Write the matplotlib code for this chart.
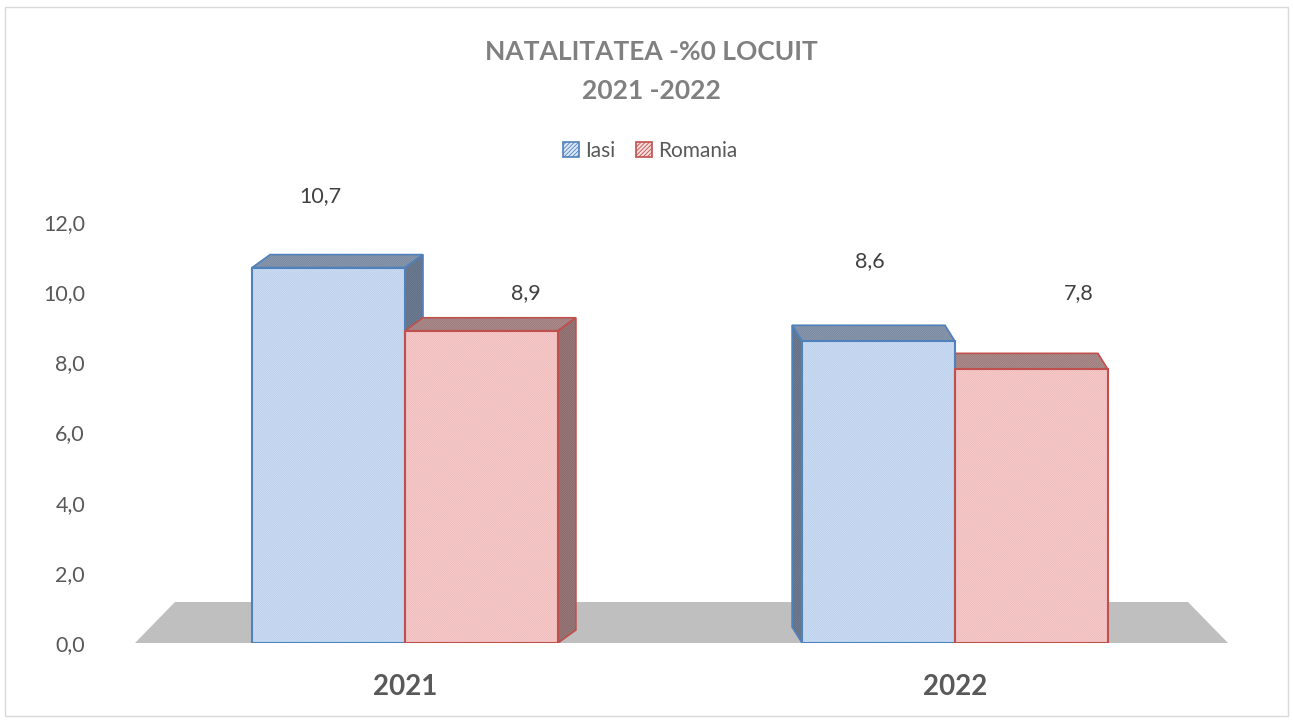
#!/usr/bin/env python3
"""Natalitatea %0 locuitori, Iasi vs Romania, 2021-2022 (pseudo-3D clustered columns)."""

import matplotlib
matplotlib.use("Agg")
import matplotlib.pyplot as plt
from matplotlib.patches import Polygon, Rectangle, Patch

# --- data ---
years = ["2021", "2022"]
series_names = ["Iasi", "Romania"]
iasi = [10.7, 8.6]
romania = [8.9, 7.8]
y_ticks = [0.0, 2.0, 4.0, 6.0, 8.0, 10.0, 12.0]

# --- styles ---
plt.rcParams["font.family"] = ["Lato", "DejaVu Sans"]
plt.rcParams["hatch.linewidth"] = 0.6
front = [dict(face="#dde8f7", hatch="#b6cdeb", edge="#4f81bd"),
         dict(face="#f9dddd", hatch="#f0b5b5", edge="#c0504d")]
top = [dict(face="#9ba8ba", hatch="#74849b", edge="#4f81bd"),
       dict(face="#bd9f9f", hatch="#967575", edge="#c0504d")]
side = [dict(face="#7e8ca0", hatch="#5b6a80", edge="#4f81bd"),
        dict(face="#a88a8a", hatch="#856464", edge="#c0504d")]
depth_px = [(18, 13), (-10, 16)]          # perspective offset per year group
label_off_px = [[(-8, 62), (44, 28)], [(-9, 70), (47, 66)]]
HATCH = "/" * 18
bar_w = 0.278

fig = plt.figure(figsize=(12.93, 7.2), dpi=100)
ax = fig.add_axes([135 / 1293, 77 / 720, 1093 / 1293, 421 / 720])
ax.set_xlim(-270 / 550, 823 / 550)
ax.set_ylim(0, 12)
for s in ax.spines.values():
    s.set_visible(False)

# frame around the chart area
fig.patches.append(Rectangle((0.004, 0.006), 0.992, 0.984, transform=fig.transFigure,
                             fill=False, edgecolor="#d9d9d9", linewidth=1.0))

fig.canvas.draw()
inv = ax.transData.inverted()


def px(dxp, dyp):
    x0, y0 = inv.transform((0, 0))
    x1, y1 = inv.transform((dxp, dyp))
    return x1 - x0, y1 - y0


# floor
xmin, xmax = ax.get_xlim()
fx, fy = px(40, 41)
ax.add_patch(Polygon([(xmin, 0), (xmax, 0), (xmax - fx, fy), (xmin + fx, fy)],
                     closed=True, facecolor="#bfbfbf", edgecolor="none", zorder=1))

values = [iasi, romania]
for g in range(len(years)):
    ddx, ddy = px(*depth_px[g])
    for k in range(len(series_names)):
        h = values[k][g]
        x0 = g + (k - 1) * bar_w
        x1 = x0 + bar_w
        # hidden faces: top and side
        tpoly = [(x0, h), (x1, h), (x1 + ddx, h + ddy), (x0 + ddx, h + ddy)]
        xe = x1 if ddx > 0 else x0
        spoly = [(xe, 0), (xe, h), (xe + ddx, h + ddy), (xe + ddx, ddy)]
        for poly, st in ((spoly, side[k]), (tpoly, top[k])):
            ax.add_patch(Polygon(poly, closed=True, facecolor=st["face"],
                                 edgecolor=st["hatch"], hatch=HATCH, linewidth=0, zorder=2 + k * 0.1))
            ax.add_patch(Polygon(poly, closed=True, facecolor="none",
                                 edgecolor=st["edge"], linewidth=1.2, zorder=2.05 + k * 0.1))

for g in range(len(years)):
    for k in range(len(series_names)):
        h = values[k][g]
        xc = g + (k - 0.5) * bar_w
        st = front[k]
        ax.bar(xc, h, bar_w, color=st["face"], edgecolor=st["hatch"], hatch=HATCH,
               linewidth=0, zorder=3)
        ax.bar(xc, h, bar_w, color="none", edgecolor=st["edge"], linewidth=1.5, zorder=3.1)
        ox, oy = label_off_px[g][k]
        ax.annotate(f"{h:.1f}".replace(".", ","), (xc, h), xytext=(ox * 0.72, oy * 0.72),
                    textcoords="offset points", ha="center", va="bottom",
                    fontsize=15.5, color="#404040", zorder=5)

ax.set_yticks(y_ticks)
ax.set_yticklabels([f"{v:.1f}".replace(".", ",") for v in y_ticks])
ax.set_xticks(range(len(years)))
ax.set_xticklabels(years, fontweight="bold")
ax.tick_params(axis="y", length=0, pad=36, labelsize=15.5, labelcolor="#595959")
ax.tick_params(axis="x", length=0, pad=22, labelsize=20, labelcolor="#595959")

fig.text(0.504, 1 - 52 / 720, "NATALITATEA -%0 LOCUIT", ha="center", va="center",
         fontsize=19, fontweight="bold", color="#808080")
fig.text(0.504, 1 - 91 / 720, "2021 -2022", ha="center", va="center",
         fontsize=19, fontweight="bold", color="#808080")

handles = [Patch(facecolor=front[k]["face"], edgecolor=front[k]["edge"], hatch="/" * 8,
                 linewidth=1.2) for k in range(len(series_names))]
fig.legend(handles, series_names, loc="center", bbox_to_anchor=(0.503, 1 - 151 / 720),
           ncol=2, frameon=False, fontsize=15, handlelength=0.75, handleheight=0.75,
           handletextpad=0.3, columnspacing=1.0, labelcolor="#595959")

fig.savefig("out.png", dpi=100)
